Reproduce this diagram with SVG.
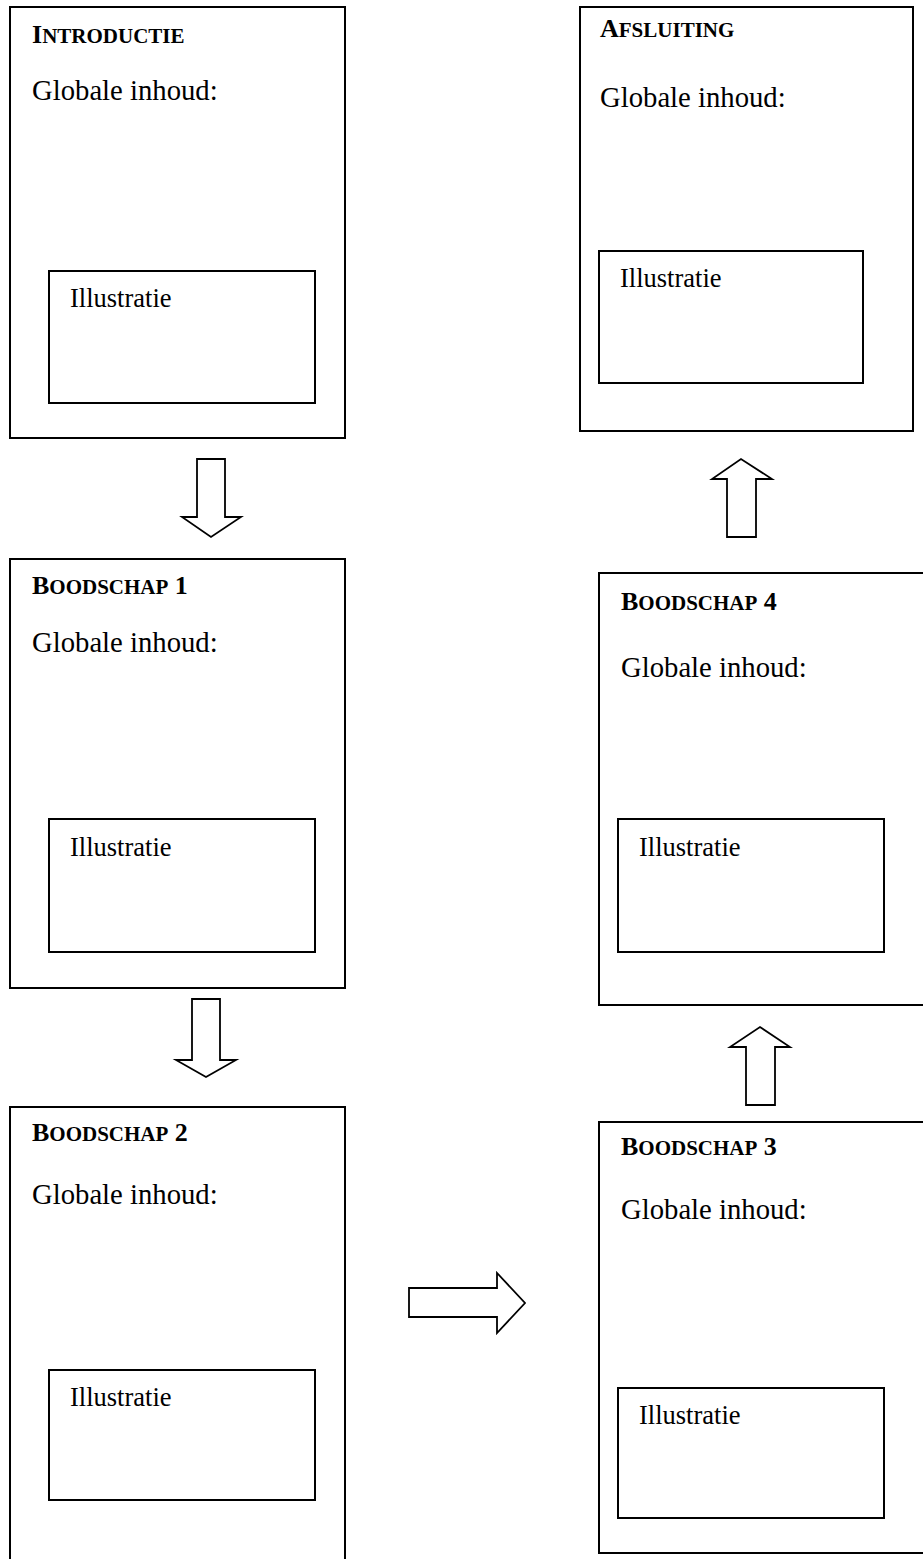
<svg xmlns="http://www.w3.org/2000/svg" width="923" height="1559" viewBox="0 0 923 1559">
<style>
.box{fill:#fff;stroke:#000;stroke-width:2}
.ill{fill:#fff;stroke:#000;stroke-width:2}
.arr{fill:#fff;stroke:#000;stroke-width:1.8;stroke-linejoin:miter}
.h{font-family:"Liberation Serif",serif;font-weight:bold;font-size:26px;fill:#000}
.sc{font-size:21px}
.g{font-family:"Liberation Serif",serif;font-size:28.7px;fill:#000}
.i{font-family:"Liberation Serif",serif;font-size:26.5px;fill:#000}
</style>
<rect width="923" height="1559" fill="#fff"/>
<g id="introductie">
<rect class="box" x="10" y="7" width="335" height="431"/>
<text class="h" x="32" y="43">I<tspan class="sc">NTRODUCTIE</tspan></text>
<text class="g" x="32" y="100">Globale inhoud:</text>
<rect class="ill" x="49" y="271" width="266" height="132"/>
<text class="i" x="70" y="307">Illustratie</text>
</g>
<g id="afsluiting">
<rect class="box" x="580" y="7" width="333" height="424"/>
<text class="h" x="600" y="37">A<tspan class="sc">FSLUITING</tspan></text>
<text class="g" x="600" y="107">Globale inhoud:</text>
<rect class="ill" x="599" y="251" width="264" height="132"/>
<text class="i" x="620" y="287">Illustratie</text>
</g>
<g id="boodschap1">
<rect class="box" x="10" y="559" width="335" height="429"/>
<text class="h" x="32" y="594">B<tspan class="sc">OODSCHAP</tspan> 1</text>
<text class="g" x="32" y="652">Globale inhoud:</text>
<rect class="ill" x="49" y="819" width="266" height="133"/>
<text class="i" x="70" y="856">Illustratie</text>
</g>
<g id="boodschap2">
<rect class="box" x="10" y="1107" width="335" height="470"/>
<text class="h" x="32" y="1141">B<tspan class="sc">OODSCHAP</tspan> 2</text>
<text class="g" x="32" y="1204">Globale inhoud:</text>
<rect class="ill" x="49" y="1370" width="266" height="130"/>
<text class="i" x="70" y="1406">Illustratie</text>
</g>
<g id="boodschap4">
<rect class="box" x="599" y="573" width="340" height="432"/>
<text class="h" x="621" y="610">B<tspan class="sc">OODSCHAP</tspan> 4</text>
<text class="g" x="621" y="677">Globale inhoud:</text>
<rect class="ill" x="618" y="819" width="266" height="133"/>
<text class="i" x="639" y="856">Illustratie</text>
</g>
<g id="boodschap3">
<rect class="box" x="599" y="1122" width="340" height="431"/>
<text class="h" x="621" y="1155">B<tspan class="sc">OODSCHAP</tspan> 3</text>
<text class="g" x="621" y="1219">Globale inhoud:</text>
<rect class="ill" x="618" y="1388" width="266" height="130"/>
<text class="i" x="639" y="1424">Illustratie</text>
</g>
<g id="connectors">
<polygon class="arr" points="197,459 225,459 225,517 241,517 211,537 182,517 197,517"/>
<polygon class="arr" points="192,999 220,999 220,1060 236,1060 206,1077 176,1060 192,1060"/>
<polygon class="arr" points="409,1288 497,1288 497,1273 525,1303 497,1333 497,1317 409,1317"/>
<polygon class="arr" points="746,1105 775,1105 775,1047 790,1047 760,1027 730,1047 746,1047"/>
<polygon class="arr" points="727,537 756,537 756,479 772,479 741,459 712,479 727,479"/>
</g>
</svg>
